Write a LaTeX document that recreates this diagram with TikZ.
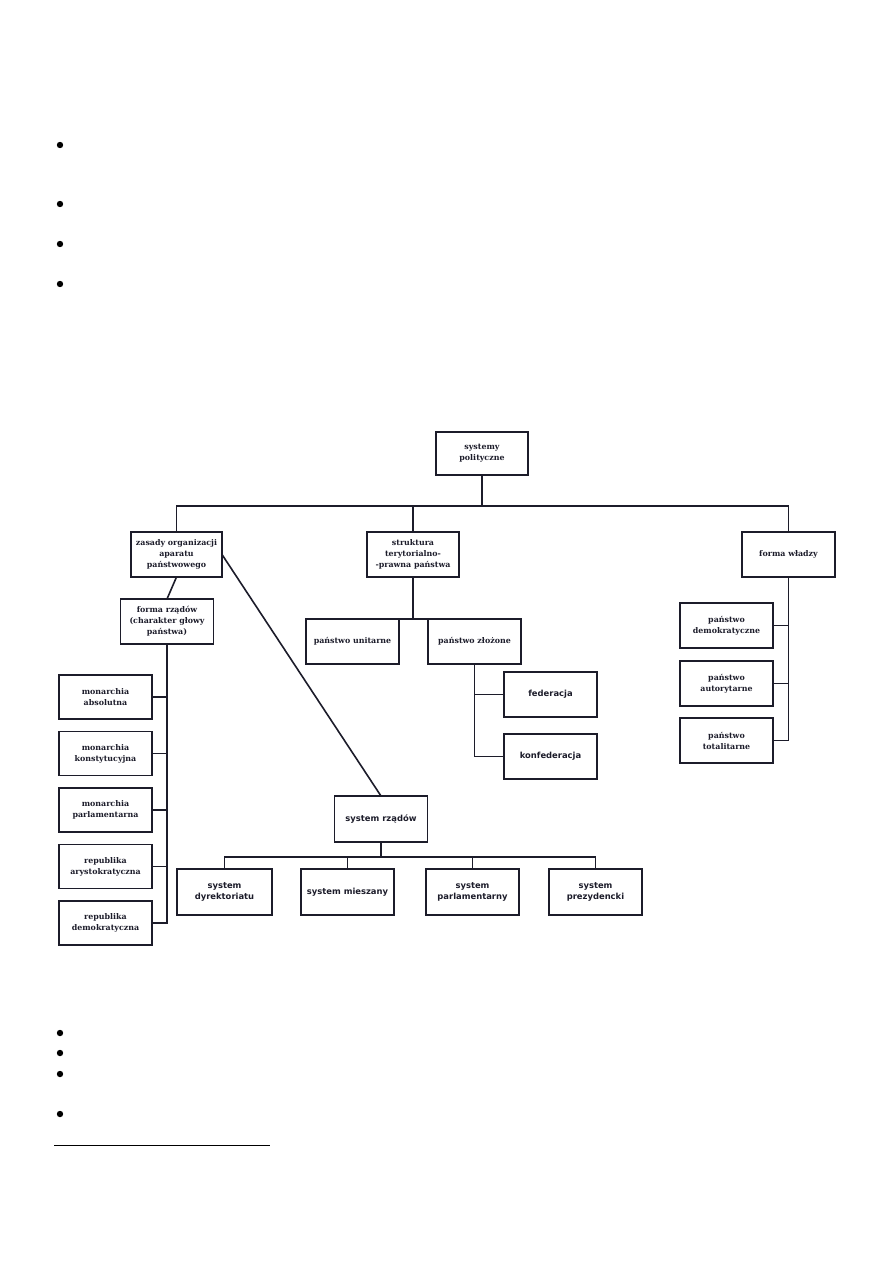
\documentclass[tikz,border=0pt]{standalone}
\usepackage{fontspec}
\usepackage{xcolor}
\usepackage{tikz}
\usetikzlibrary{positioning}
\newfontfamily\slabfont{DejaVu Serif}
\newfontfamily\boxsans{DejaVu Sans}
\definecolor{ink}{HTML}{1C1C2A}
\tikzstyle{box} = [rectangle, draw=ink, line width=1.8pt, outer sep=0pt, minimum width=93pt, minimum height=45pt, align=center, text=ink, font=\slabfont\bfseries\fontsize{7.9}{11}\selectfont]
\tikzstyle{sansbox} = [box, font=\boxsans\bfseries\fontsize{8.4}{11.5}\selectfont]
\tikzstyle{conn} = [draw=ink, line width=1.6pt]

\begin{document}
\begin{tikzpicture}[x=1pt, y=-1pt]
    \useasboundingbox (0,0) rectangle (893,1263);

    % === ROOT ===
    \node[box, minimum width=92pt, minimum height=43pt] (sys) at (482,453.5) {systemy\\polityczne};

    % === LEVEL 1 ===
    \node[box, minimum width=91pt, below=57pt of sys, xshift=-305.5pt] (zasady) {zasady organizacji\\aparatu\\państwowego};
    \node[box, minimum width=92pt, below=57pt of sys, xshift=-69pt] (struktura) {struktura\\terytorialno-\\-prawna państwa};
    \node[box, below=57pt of sys, xshift=306.5pt] (wladza) {forma władzy};

    % === forma rzadow branch ===
    \node[box, below=22pt of zasady, xshift=-9.5pt] (frzadow) {forma rządów\\(charakter głowy\\państwa)};
    \node[box, minimum height=44pt, below=31pt of frzadow, xshift=-61.5pt] (mabs) {monarchia\\absolutna};
    \node[box, minimum height=44pt, below=12.5pt of mabs] (mkonst) {monarchia\\konstytucyjna};
    \node[box, minimum height=44pt, below=12.5pt of mkonst] (mparl) {monarchia\\parlamentarna};
    \node[box, minimum height=44pt, below=12.5pt of mparl] (rary) {republika\\arystokratyczna};
    \node[box, minimum height=44pt, below=12.5pt of rary] (rdem) {republika\\demokratyczna};

    % === struktura branch ===
    \node[box, below=42pt of struktura, xshift=-60.5pt] (unitarne) {państwo unitarne};
    \node[box, right=29pt of unitarne] (zlozone) {państwo złożone};
    \node[sansbox, below=8pt of zlozone, xshift=76pt] (federacja) {federacja};
    \node[sansbox, below=17pt of federacja] (konfed) {konfederacja};

    % === forma wladzy branch ===
    \node[box, below=26pt of wladza, xshift=-62pt] (demok) {państwo\\demokratyczne};
    \node[box, below=13pt of demok] (autor) {państwo\\autorytarne};
    \node[box, below=12pt of autor] (total) {państwo\\totalitarne};

    % === system rzadow branch ===
    \node[sansbox, minimum height=46pt, below=132pt of unitarne, xshift=28.5pt] (sysrz) {system rządów};
    \node[sansbox, minimum width=95pt, minimum height=46pt, below=27pt of sysrz, xshift=-156.5pt] (dyrekt) {system\\dyrektoriatu};
    \node[sansbox, minimum height=46pt, right=29pt of dyrekt] (miesz) {system mieszany};
    \node[sansbox, minimum height=46pt, right=32pt of miesz] (parl) {system\\parlamentarny};
    \node[sansbox, minimum height=46pt, right=30pt of parl] (prez) {system\\prezydencki};

    % ===== CONNECTORS =====
    % root -> level 1
    \draw[conn] (sys.south) -- ++(0,31) coordinate (bus);
    \draw[conn] (zasady.north) |- (bus) -| (wladza.north);
    \draw[conn] (struktura.north) -- (struktura.north |- bus);

    % zasady -> forma rzadow, system rzadow
    \draw[conn] (zasady.south) -- (frzadow.north);
    \draw[conn] (zasady.east) -- (sysrz.north);

    % forma rzadow -> monarchie / republiki
    \draw[conn] (frzadow.south) |- (rdem.east);
    \foreach \n in {mabs, mkonst, mparl, rary}
        \draw[conn] (\n.east) -- (\n.east -| frzadow.south);

    % struktura -> unitarne / zlozone
    \draw[conn] (struktura.south) -- (struktura.south |- unitarne.north);
    \draw[conn] (unitarne.north east) -- (zlozone.north west);
    \draw[conn] (zlozone.south) |- (konfed.west);
    \draw[conn] (federacja.west) -- (federacja.west -| zlozone.south);

    % forma wladzy -> panstwa
    \draw[conn] (wladza.south) |- (total.east);
    \draw[conn] (demok.east) -- (demok.east -| wladza.south);
    \draw[conn] (autor.east) -- (autor.east -| wladza.south);

    % system rzadow -> rodzaje
    \draw[conn] (sysrz.south) -- ++(0,15) coordinate (bus2);
    \draw[conn] (dyrekt.north) |- (bus2) -| (prez.north);
    \draw[conn] (miesz.north) -- (miesz.north |- bus2);
    \draw[conn] (parl.north) -- (parl.north |- bus2);

    % bullets of the page text and footnote rule
    \foreach \y in {145, 204, 244, 284, 1033, 1053, 1074, 1114}
        \fill (60,\y) circle (3.2pt);
    \draw[line width=0.8pt] (54,1145) -- (270,1145);
\end{tikzpicture}
\end{document}
